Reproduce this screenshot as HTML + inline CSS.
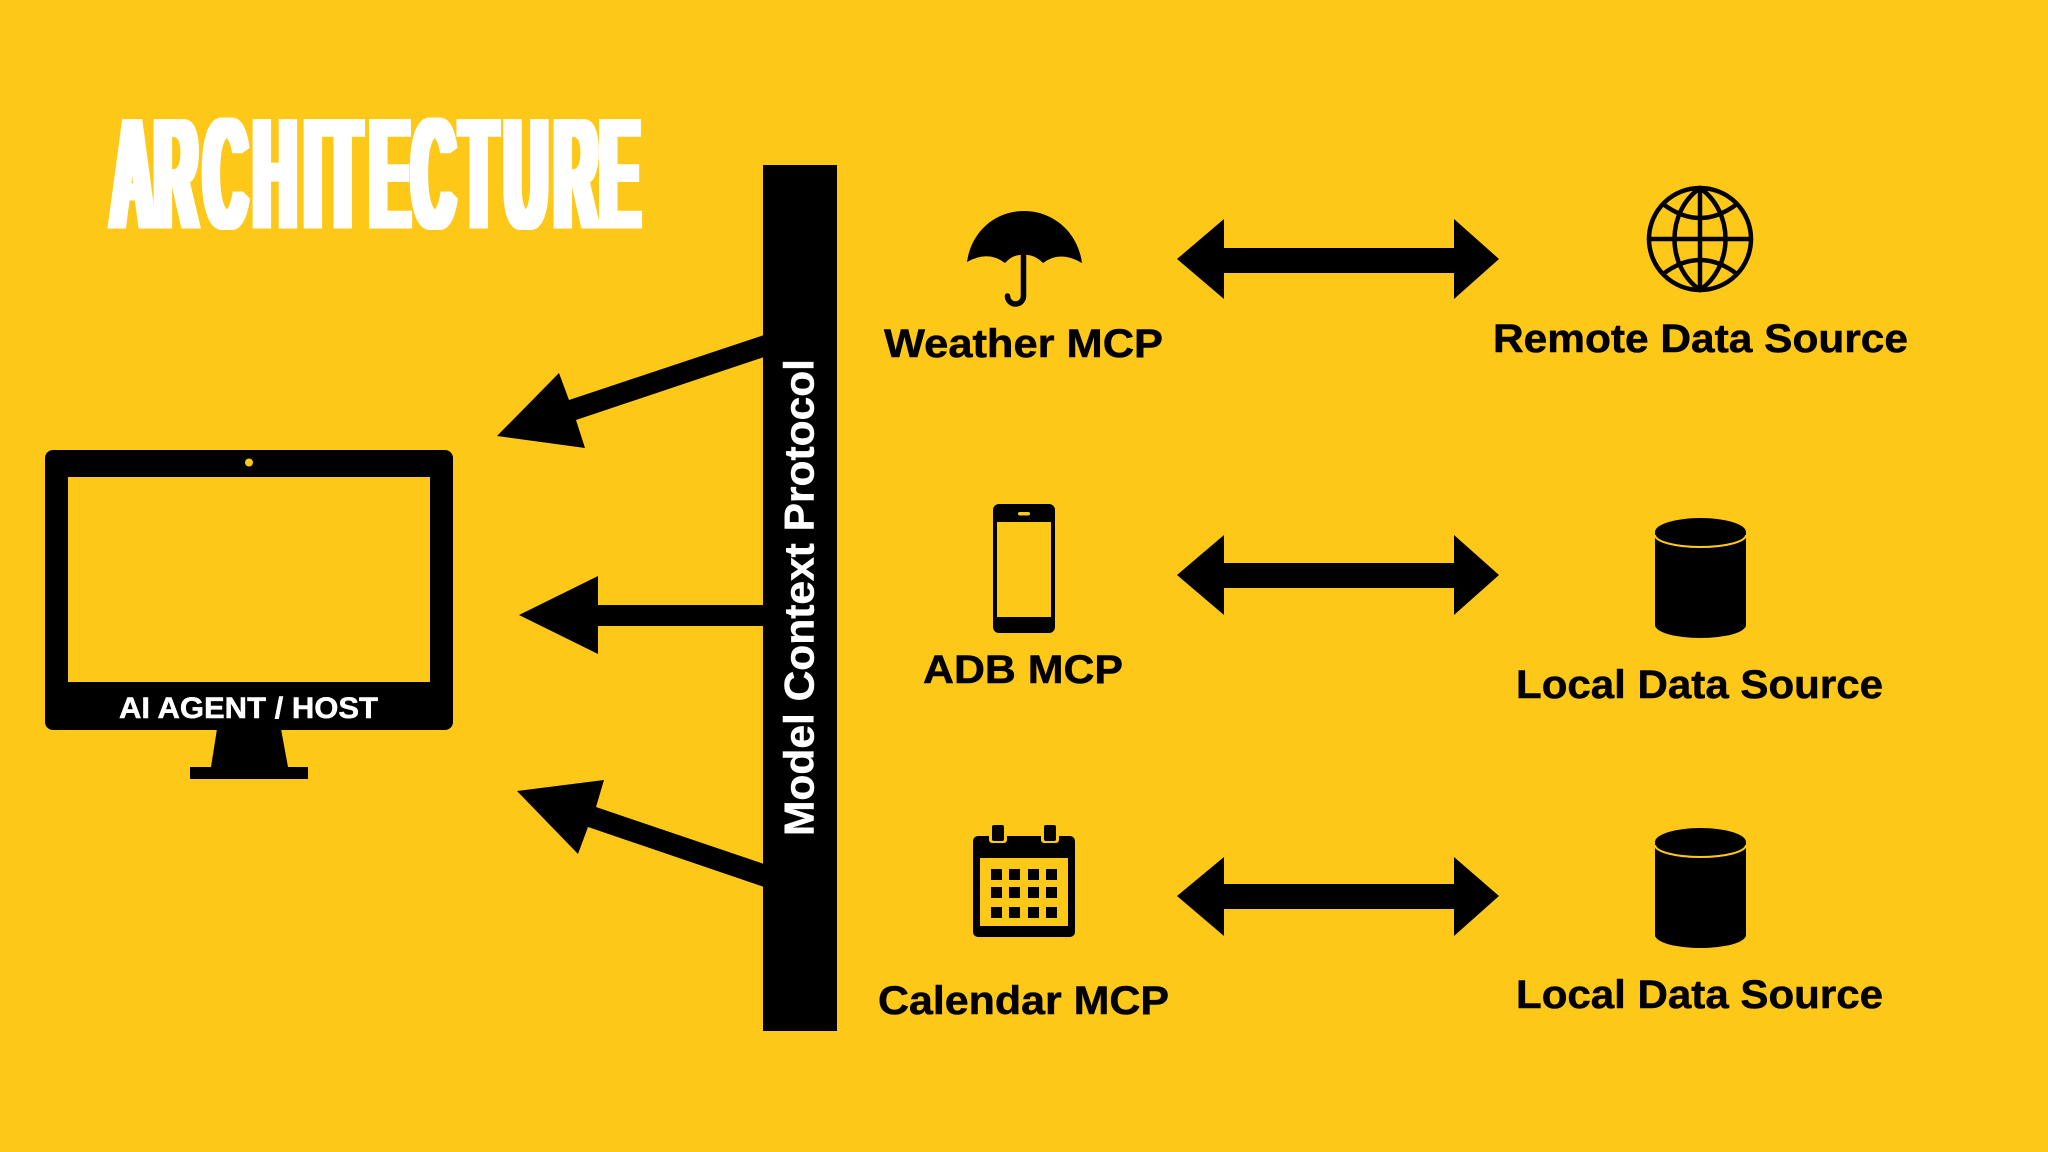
<!DOCTYPE html>
<html><head><meta charset="utf-8"><style>
html,body{margin:0;padding:0;background:#fec819}
svg{display:block}
text{font-family:"Liberation Sans",sans-serif;font-weight:700}
.k{fill:#000;stroke:#000;stroke-width:.5px}
.w{fill:#fff;stroke:#fff;stroke-width:.5px}
</style></head><body>
<svg xmlns="http://www.w3.org/2000/svg" width="2048" height="1152" viewBox="0 0 2048 1152">
<defs>
<filter id="fat" filterUnits="userSpaceOnUse" primitiveUnits="userSpaceOnUse" x="0" y="0" width="2048" height="1152"><feMorphology operator="dilate" radius="5 0"/></filter>
</defs>
<rect width="2048" height="1152" fill="#fec819"/>

<g filter="url(#fat)"><text transform="scale(.37,1)" x="300 418.1 551.9 685.6 823.5 877.8 1000.5 1114 1245.4 1364.1 1499.1 1622" y="228.5" font-size="159" fill="#fff">ARCHITECTURE</text></g>

<!-- bar -->
<rect x="763" y="165" width="74" height="866" fill="#000"/>
<text class="w" transform="translate(813.5,836) rotate(-90)" font-size="42" textLength="477" lengthAdjust="spacingAndGlyphs">Model Context Protocol</text>

<!-- left arrows -->
<polygon fill="#000" points="764,335 569,400 559,373 497,436 585,448 576,420 764,357"/>
<polygon fill="#000" points="764,605 598,605 598,576 519,615 598,654 598,626 764,626"/>
<polygon fill="#000" points="764,864 596,807 604,780 517,791 578,854 588,827 764,887"/>

<!-- monitor -->
<rect x="45" y="450" width="408" height="280" rx="8" fill="#000"/>
<rect x="68" y="477" width="362" height="205" fill="#fec819"/>
<circle cx="249" cy="462.5" r="4" fill="#fec819"/>
<polygon fill="#000" points="217,729 281,729 288,767 308,767 308,779 190,779 190,767 211,767"/>
<text class="w" x="119" y="718" font-size="30" textLength="259" lengthAdjust="spacingAndGlyphs">AI AGENT / HOST</text>

<!-- umbrella -->
<path fill="#000" d="M967,262 C971,232 995,211 1024,211 C1053,211 1078,232 1082,263 Q1060,250 1043,263 Q1034,254 1023.5,255 Q1013,254 1005,263 Q988,250 967,262Z"/>
<path fill="none" stroke="#000" stroke-width="5.5" stroke-linecap="round" d="M1023.5,256 V296 A8,8 0 0 1 1007.5,296"/>
<text class="k" x="884" y="357" font-size="40" textLength="279" lengthAdjust="spacingAndGlyphs">Weather MCP</text>

<!-- phone -->
<rect x="993" y="504" width="62" height="129" rx="6" fill="#000"/>
<rect x="997" y="522" width="54" height="95" fill="#fec819"/>
<rect x="1018" y="512" width="12" height="3.5" rx="1.7" fill="#fec819"/>
<text class="k" x="923" y="683" font-size="40" textLength="200" lengthAdjust="spacingAndGlyphs">ADB MCP</text>

<!-- calendar -->
<rect x="973" y="836" width="102" height="101" rx="5" fill="#000"/>
<path fill="#fec819" d="M989,836h18v4a3,3 0 0 1 -3,3h-12a3,3 0 0 1 -3,-3zM1041,836h18v4a3,3 0 0 1 -3,3h-12a3,3 0 0 1 -3,-3z"/>
<rect x="992" y="825" width="12" height="16" rx="2" fill="#000"/>
<rect x="1044" y="825" width="12" height="16" rx="2" fill="#000"/>
<rect x="980" y="858" width="88" height="68" fill="#fec819"/>
<g fill="#000">
<rect x="991" y="869" width="11" height="11"/><rect x="1009" y="869" width="11" height="11"/><rect x="1028" y="869" width="11" height="11"/><rect x="1046" y="869" width="11" height="11"/>
<rect x="991" y="887" width="11" height="11"/><rect x="1009" y="887" width="11" height="11"/><rect x="1028" y="887" width="11" height="11"/><rect x="1046" y="887" width="11" height="11"/>
<rect x="991" y="907" width="11" height="11"/><rect x="1009" y="907" width="11" height="11"/><rect x="1028" y="907" width="11" height="11"/><rect x="1046" y="907" width="11" height="11"/>
</g>
<text class="k" x="878" y="1014" font-size="40" textLength="291" lengthAdjust="spacingAndGlyphs">Calendar MCP</text>

<!-- double arrows -->
<polygon fill="#000" points="1177,259 1224,219 1224,248 1454,248 1454,219 1499,259 1454,299 1454,273 1224,273 1224,299"/>
<polygon fill="#000" points="1177,575 1224,535 1224,563 1454,563 1454,535 1499,575 1454,615 1454,588 1224,588 1224,615"/>
<polygon fill="#000" points="1177,896 1224,857 1224,884 1454,884 1454,857 1499,896 1454,936 1454,909 1224,909 1224,936"/>

<!-- globe -->
<g fill="none" stroke="#000" stroke-width="4.5">
<circle cx="1700" cy="239" r="51"/>
<path d="M1700,188 C1666,212 1666,266 1700,290 C1734,266 1734,212 1700,188Z"/>
<path d="M1649,239H1751M1700,188V290"/>
<path d="M1663,204Q1700,232 1737,204"/>
<path d="M1663,274Q1700,246 1737,274"/>
</g>
<text class="k" x="1493" y="352" font-size="40" textLength="415" lengthAdjust="spacingAndGlyphs">Remote Data Source</text>

<!-- cylinder 1 -->
<path fill="#000" d="M1655,532 A45.5,14 0 0 1 1746,532 V625 A45.5,13 0 0 1 1655,625Z"/>
<path fill="none" stroke="#fec819" stroke-width="2" d="M1655,535 A45.5,12 0 0 0 1746,535"/>
<text class="k" x="1516" y="698" font-size="40" textLength="367" lengthAdjust="spacingAndGlyphs">Local Data Source</text>

<!-- cylinder 2 -->
<path fill="#000" d="M1655,842 A45.5,14 0 0 1 1746,842 V935 A45.5,13 0 0 1 1655,935Z"/>
<path fill="none" stroke="#fec819" stroke-width="2" d="M1655,845 A45.5,12 0 0 0 1746,845"/>
<text class="k" x="1516" y="1008" font-size="40" textLength="367" lengthAdjust="spacingAndGlyphs">Local Data Source</text>
</svg>
</body></html>
